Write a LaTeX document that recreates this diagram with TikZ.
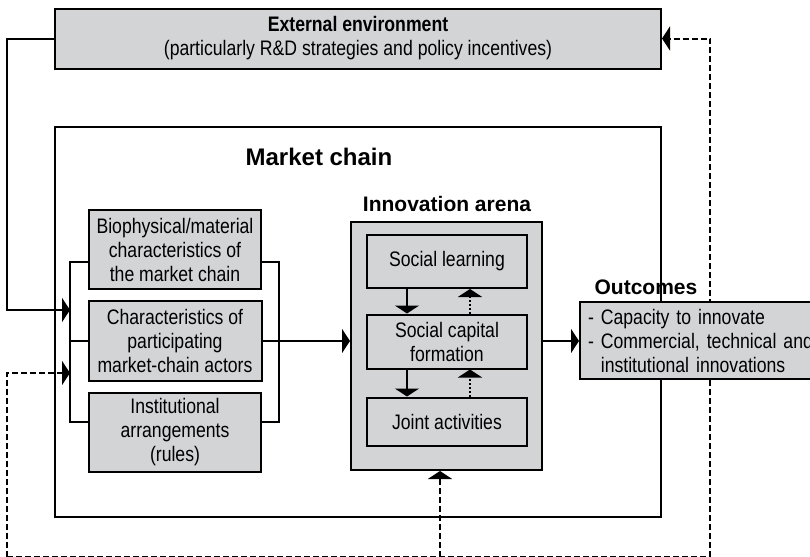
\documentclass[tikz,border=0pt]{standalone}
\usepackage{fontspec}
\setmainfont{Liberation Sans}
\newfontfamily\condfont{Liberation Sans}[FakeStretch=0.84]
\usetikzlibrary{arrows.meta, backgrounds}
\definecolor{boxgray}{RGB}{211,212,214}
\tikzstyle{box} = [rectangle, draw=black, line width=1pt, fill=boxgray, align=center, inner sep=0pt, font=\condfont\fontsize{10.5}{12}\selectfont]
\tikzstyle{heading} = [font=\bfseries\fontsize{10.5}{12}\selectfont]
\tikzstyle{line} = [line width=1pt]
\tikzstyle{arrow} = [line width=1pt, -{Triangle[length=4pt, width=12pt]}]
\tikzstyle{dashline} = [line width=1pt, dash pattern=on 3pt off 1.5pt]
\tikzstyle{dasharrow} = [dashline, -{Triangle[length=4pt, width=12pt]}]
\tikzstyle{dotarrow} = [line width=1pt, dash pattern=on 0.8pt off 1.2pt, -{Triangle[length=4pt, width=12pt]}]

\begin{document}
\begin{tikzpicture}[x=0.5pt, y=-0.5pt]
        \useasboundingbox (0,0) rectangle (810,557);

        % market chain with its parts
        \node (extenv) [box, minimum width=303pt, minimum height=30pt] at (358,38.5) {{\bfseries External environment}\\(particularly R\&D strategies and policy incentives)};
        \node (marketlabel) [heading, font=\bfseries\fontsize{12}{14}\selectfont] at (319,157) {Market chain};
        \node (bio) [box, minimum width=86pt, minimum height=39.5pt] at (175,249.5) {Biophysical/material\\characteristics of\\the market chain};
        \node (chars) [box, minimum width=86.5pt, minimum height=40pt, below of = bio, node distance = 45.75pt] {Characteristics of\\participating\\market-chain actors};
        \node (inst) [box, minimum width=86pt, minimum height=39.5pt, below of = chars, node distance = 45.75pt] {Institutional\\arrangements\\(rules)};

        % innovation arena
        \node (arenalabel) [heading] at (447,204) {Innovation arena};
        \node (arena) [box, minimum width=95.5pt, minimum height=124pt] at (446.5,346) {};
        \node (learn) [box, minimum width=80pt, minimum height=26.5pt] at (447,261.5) {Social learning};
        \node (capital) [box, minimum width=80pt, minimum height=27pt, below of = learn, node distance = 40pt] {Social capital\\formation};
        \node (joint) [box, minimum width=80pt, minimum height=24pt, below of = capital, node distance = 40pt] {Joint activities};

        \node (outlabel) [heading] at (646,287) {Outcomes};
        \node (outcomes) [box, align=left, anchor=west, inner xsep=4pt, text width=140pt, minimum height=38.5pt] at (579,340.5) {- Capacity to innovate\\- Commercial, technical and\\\phantom{- }institutional innovations};

        \coordinate (envturn) at (7,310);
        \coordinate (feedin) at (70,373);
        \coordinate (bl1) at (70,262);
        \coordinate (bl3) at (70,422);
        \coordinate (br1) at (279,262);
        \coordinate (br3) at (279,422);
        \coordinate (cornerbl) at (7,557);
        \coordinate (cornerbr) at (710,557);
        \coordinate (feedup) at (440,557);

        \begin{pgfonlayer}{background}
        \node (market) [draw, line width=1pt, minimum width=303pt, minimum height=195pt] at (358,322) {};
        \draw [dashline] (cornerbl) -- (cornerbr);
        \draw [dasharrow] (cornerbl) |- (feedin);
        \draw [dasharrow] (cornerbr) |- (extenv.east);
        \draw [dasharrow] (feedup) -- (feedup |- arena.south);
        \end{pgfonlayer}

        \draw [arrow] (extenv.west) -| (envturn) -- (envturn -| bl1);
        \draw [line] (bl1 -| bio.west) -- (bl1) -- (bl3) -- (bl3 -| inst.west);
        \draw [line] (chars.west) -- (chars.west -| bl1);
        \draw [line] (br1 -| bio.east) -- (br1) -- (br3) -- (br3 -| inst.east);
        \draw [arrow] (chars.east) -- (arena.west |- chars.east);
        \draw [arrow] (arena.east |- chars.east) -- (outcomes.west |- chars.east);

        \draw [arrow] ([xshift=-20pt]learn.south) -- ([xshift=-20pt]capital.north);
        \draw [arrow] ([xshift=-20pt]capital.south) -- ([xshift=-20pt]joint.north);
        \draw [dotarrow] ([xshift=11.5pt]capital.north) -- ([xshift=11.5pt]learn.south);
        \draw [dotarrow] ([xshift=11.5pt]joint.north) -- ([xshift=11.5pt]capital.south);

    \end{tikzpicture}
\end{document}
